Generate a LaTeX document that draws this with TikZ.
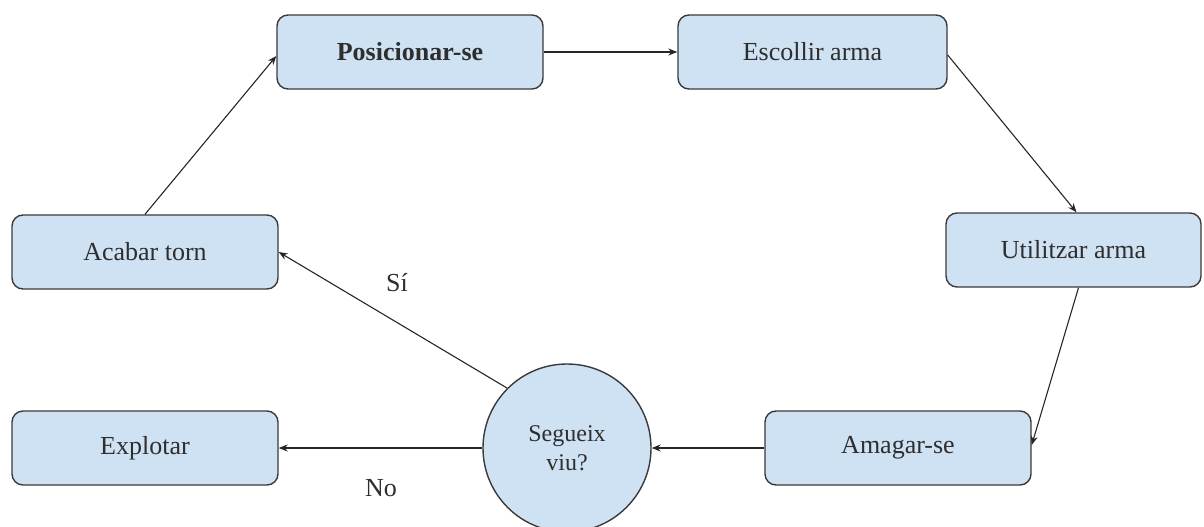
\documentclass[tikz,border=0pt]{standalone}
\usepackage{fontspec}
\setmainfont{Liberation Serif}
\usetikzlibrary{arrows.meta,calc}
\definecolor{boxfill}{HTML}{CFE2F3}
\definecolor{boxdraw}{HTML}{3A3A3A}
\definecolor{txt}{HTML}{2E2E2E}
\tikzset{
  stepbox/.style={draw=boxdraw, line width=1.4pt, fill=boxfill, rounded corners=11pt,
    minimum height=74pt, inner sep=0pt, text=txt, font=\fontsize{26}{29}\selectfont},
  decision/.style={draw=boxdraw, line width=1.4pt, fill=boxfill, circle, minimum size=168pt,
    inner sep=0pt, text=txt, align=center, font=\fontsize{24}{29}\selectfont},
  conn/.style={draw=black!85, line width=1.1pt, -{Stealth[length=9pt,width=7pt]}},
  lbl/.style={text=txt, font=\fontsize{26}{29}\selectfont, inner sep=0pt}
}
\begin{document}
\begin{tikzpicture}[x=1pt,y=-1pt]
\useasboundingbox (0,0) rectangle (1204,527);
\node[stepbox, minimum width=266pt, font=\fontsize{26}{29}\selectfont\bfseries] (pos) at (410,52) {Posicionar-se};
\node[stepbox, minimum width=269pt] (esc) at (812.5,52) {Escollir arma};
\node[stepbox, minimum width=255pt] (uti) at (1073.5,250) {Utilitzar arma};
\node[stepbox, minimum width=266pt] (aca) at (145,252) {Acabar torn};
\node[stepbox, minimum width=266pt] (ama) at (898,448) {Amagar-se};
\node[stepbox, minimum width=266pt] (exp) at (145,448) {Explotar};
\node[decision] (seg) at (567,448) {Segueix\\viu?};

\draw[conn] (pos.east) -- (esc.west);
\draw[conn] ($(esc.east)+(0,3)$) -- ($(uti.north)+(3,0)$);
\draw[conn] ($(uti.south)+(5,0)$) -- ($(ama.east)+(0,-3)$);
\draw[conn] (ama.west) -- (seg.east);
\draw[conn] (seg.west) -- (exp.east);
\draw[conn] (seg.135) -- (aca.east);
\draw[conn] (aca.north) -- ($(pos.west)+(0,4)$);

\node[lbl] (si) at (397,283) {Sí};
\node[lbl] (no) at (381,488) {No};
\end{tikzpicture}
\end{document}
